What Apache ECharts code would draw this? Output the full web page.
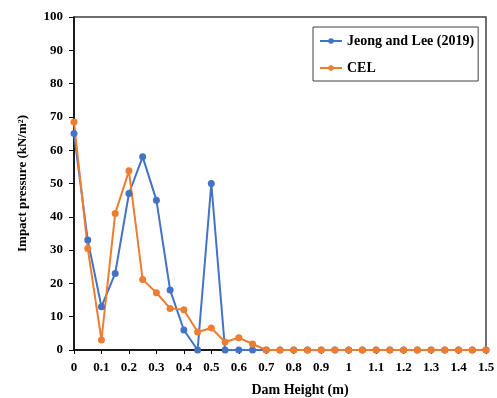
<!DOCTYPE html>
<html><head><meta charset="utf-8">
<script src="https://cdn.jsdelivr.net/npm/echarts@6/dist/echarts.min.js"></script>
<style>html,body{margin:0;padding:0;background:#fff}#c{width:497px;height:398px}</style>
</head><body><div id="c"></div>
<script>
const xValues = [0,0.05,0.1,0.15,0.2,0.25,0.3,0.35,0.4,0.45,0.5,0.55,0.6,0.65,0.7,0.75,0.8,0.85,0.9,0.95,1,1.05,1.1,1.15,1.2,1.25,1.3,1.35,1.4,1.45,1.5];
const jeongLee = [65,33,13,23,47,58,45,18,6,0,50,0,0,0,0,0,0,0,0,0,0,0,0,0,0,0,0,0,0,0,0];
const cel = [68.5,30.5,3,41,53.8,21.2,17.2,12.5,12.1,5.4,6.6,2.4,3.7,1.8,0,0,0,0,0,0,0,0,0,0,0,0,0,0,0,0,0];
const seriesNames = ['Jeong and Lee (2019)','CEL'];
const font = 'Liberation Serif';
const chart = echarts.init(document.getElementById('c'));
const pairs = arr => xValues.map((x,i)=>[x,arr[i]]);
chart.setOption({
  animation:false,
  grid:{left:74,right:11,top:17,bottom:48,show:true,borderColor:'#404040',borderWidth:1.5,backgroundColor:'transparent',outerBoundsMode:'none',containLabel:false},
  legend:{
    orient:'vertical',left:313,top:27,
    padding:[7,4,6,6],itemGap:13,itemWidth:22,itemHeight:7,
    borderColor:'#404040',borderWidth:1,
    textStyle:{fontFamily:font,fontWeight:'bold',fontSize:14,color:'#000'},
    data:seriesNames
  },
  xAxis:{type:'value',min:0,max:1.5,interval:0.1,
    name:'Dam Height (m)',nameLocation:'middle',nameGap:33,
    nameTextStyle:{fontFamily:font,fontWeight:'bold',fontSize:14,color:'#000',padding:[0,0,0,40]},
    axisLine:{lineStyle:{color:'#000',width:1.5}},
    axisTick:{show:true,length:4,lineStyle:{color:'#000'}},
    splitLine:{show:false},
    axisLabel:{fontFamily:font,fontWeight:'bold',fontSize:13,color:'#000',margin:11,
      formatter:v=>String(Math.round(v*10)/10)}
  },
  yAxis:{type:'value',min:0,max:100,interval:10,
    name:'Impact pressure (kN/m²)',nameLocation:'middle',nameGap:45,
    nameTextStyle:{fontFamily:font,fontWeight:'bold',fontSize:13,color:'#000'},
    axisLine:{show:true,lineStyle:{color:'#000',width:1.5}},
    axisTick:{show:true,length:5,lineStyle:{color:'#000'}},
    splitLine:{show:false},
    axisLabel:{fontFamily:font,fontWeight:'bold',fontSize:13,color:'#000',margin:11}
  },
  series:[
    {name:seriesNames[0],type:'line',data:pairs(jeongLee),symbol:'circle',symbolSize:7,
      itemStyle:{color:'#4472C4'},lineStyle:{color:'#4472C4',width:2}},
    {name:seriesNames[1],type:'line',data:pairs(cel),symbol:'circle',symbolSize:7,
      itemStyle:{color:'#ED7D31'},lineStyle:{color:'#ED7D31',width:2}}
  ]
});
</script></body></html>
